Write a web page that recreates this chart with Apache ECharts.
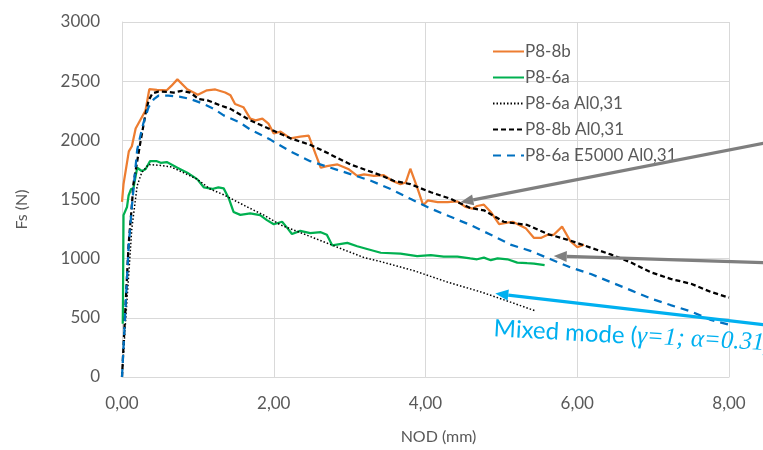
<!DOCTYPE html>
<html>
<head>
<meta charset="utf-8">
<script src="https://cdn.jsdelivr.net/npm/echarts@6/dist/echarts.min.js"></script>
<style>
    html, body {margin: 0; padding: 0; background: #fff;}
    #main {width: 763px; height: 450px;}
</style>
</head>
<body>
<div id="main"></div>
<script>
let xTicks = ['0,00', '2,00', '4,00', '6,00', '8,00'];

// P8-8b (orange)
let p88b = [[0, 1480], [0.02, 1630], [0.09, 1907], [0.13, 1950], [0.18, 2100], [0.31, 2252], [0.36, 2432], [0.46, 2427],
    [0.59, 2423], [0.65, 2460], [0.73, 2515], [0.86, 2432], [1.0, 2385], [1.12, 2423], [1.23, 2430], [1.36, 2404],
    [1.43, 2380], [1.49, 2307], [1.60, 2280], [1.69, 2183], [1.76, 2169], [1.85, 2183], [1.93, 2141], [2.0, 2058],
    [2.09, 2073], [2.22, 2017], [2.35, 2031], [2.46, 2039], [2.62, 1768], [2.70, 1782], [2.84, 1796], [2.99, 1755],
    [3.10, 1700], [3.19, 1713], [3.32, 1700], [3.45, 1705], [3.56, 1658], [3.67, 1630], [3.74, 1644], [3.80, 1760],
    [3.89, 1602], [3.97, 1451], [4.03, 1492], [4.16, 1478], [4.29, 1478], [4.42, 1484], [4.53, 1437], [4.62, 1423],
    [4.68, 1445], [4.77, 1456], [4.86, 1395], [4.97, 1291], [5.15, 1312], [5.32, 1258], [5.43, 1175], [5.52, 1175],
    [5.61, 1202], [5.69, 1202], [5.80, 1271], [5.91, 1147], [6.00, 1097], [6.09, 1119]];

// P8-6a (green)
let p86a = [[0.01, 450], [0.013, 649], [0.02, 1368], [0.066, 1437], [0.087, 1534], [0.12, 1589], [0.15, 1594],
    [0.20, 1768], [0.26, 1741], [0.31, 1755], [0.37, 1824], [0.46, 1824], [0.51, 1810], [0.59, 1816], [0.73, 1768],
    [0.86, 1727], [0.99, 1672], [1.08, 1602], [1.19, 1589], [1.27, 1602], [1.34, 1594], [1.41, 1506], [1.47, 1395],
    [1.56, 1370], [1.69, 1382], [1.82, 1368], [1.91, 1326], [2.0, 1291], [2.11, 1312], [2.18, 1258], [2.24, 1208],
    [2.35, 1235], [2.48, 1216], [2.62, 1224], [2.70, 1202], [2.77, 1113], [2.97, 1133], [3.10, 1105], [3.23, 1082],
    [3.41, 1050], [3.67, 1042], [3.89, 1022], [4.07, 1030], [4.24, 1017], [4.42, 1017], [4.59, 1002], [4.68, 995],
    [4.77, 1009], [4.86, 987], [4.95, 1003], [5.08, 995], [5.21, 967], [5.34, 962], [5.43, 959], [5.57, 946]];

// P8-6a Al0,31 (black dotted)
let p86aAl = [[0, 0], [0.05, 500], [0.13, 1258], [0.20, 1617], [0.26, 1727], [0.35, 1796], [0.51, 1788], [0.64, 1777],
    [0.81, 1727], [0.99, 1672], [1.16, 1589], [1.34, 1540], [1.43, 1510], [1.65, 1437], [1.87, 1368], [2.09, 1285],
    [2.31, 1230], [2.53, 1175], [2.75, 1119], [2.97, 1064], [3.19, 1009], [3.41, 975], [3.85, 898], [4.29, 802],
    [4.73, 719], [5.17, 622], [5.45, 558]];

// P8-8b Al0,31 (black dashed)
let p88bAl = [[0, 0], [0.044, 566], [0.087, 1119], [0.13, 1451], [0.15, 1630], [0.24, 1975], [0.31, 2224], [0.35, 2335],
    [0.40, 2396], [0.48, 2412], [0.61, 2410], [0.68, 2404], [0.79, 2418], [0.90, 2404], [1.01, 2349], [1.14, 2335],
    [1.30, 2294], [1.43, 2266], [1.69, 2169], [1.96, 2092], [2.22, 2017], [2.48, 1962], [2.62, 1921], [2.84, 1851],
    [3.01, 1796], [3.41, 1705], [3.58, 1658], [3.80, 1630], [4.07, 1561], [4.33, 1506], [4.59, 1428], [4.77, 1409],
    [5.03, 1312], [5.34, 1285], [5.61, 1208], [5.91, 1152], [6.18, 1092], [6.44, 1036], [6.71, 967], [6.97, 885],
    [7.23, 829], [7.50, 788], [7.76, 719], [8.0, 671]];

// P8-6a E5000 Al0,31 (blue dashed)
let p86aE = [[0, 0], [0.044, 560], [0.087, 1100], [0.13, 1440], [0.20, 1920], [0.28, 2141], [0.35, 2280], [0.42, 2349],
    [0.48, 2377], [0.61, 2377], [0.77, 2368], [0.90, 2349], [1.08, 2307], [1.21, 2266], [1.34, 2211], [1.54, 2155],
    [1.69, 2092], [1.96, 2004], [2.22, 1907], [2.48, 1824], [2.75, 1768], [3.01, 1715], [3.28, 1658], [3.54, 1589],
    [3.80, 1506], [4.07, 1423], [4.33, 1354], [4.59, 1285], [4.86, 1202], [5.12, 1119], [5.39, 1064], [5.65, 995],
    [5.91, 926], [6.18, 870], [6.44, 802], [6.71, 732], [6.97, 663], [7.23, 608], [7.50, 553], [7.76, 483], [8.0, 442]];

// 标注箭头 (from -> to, data coords)
let arrows = [
    {from: [8.46, 1975], to: [4.46, 1476], color: '#7f7f7f'},
    {from: [8.46, 967], to: [5.69, 1022], color: '#7f7f7f'},
    {from: [8.46, 442], to: [4.92, 705], color: '#00b0f0'}
];
let noteAt = [4.9, 410];

let font = 'Lato, "Open Sans", sans-serif';
let myChart = echarts.init(document.getElementById('main'));

function lineSeries(name, data, color, width, type) {
    return {
        name: name,
        type: 'line',
        data: data,
        symbol: 'none',
        smooth: false,
        animation: false,
        lineStyle: {color: color, width: width, type: type},
        itemStyle: {color: color}
    };
}

let option = {
    animation: false,
    grid: {left: 122, right: 34, top: 22, bottom: 65},
    legend: {
        orient: 'vertical',
        left: 487,
        top: 38,
        itemWidth: 31,
        itemHeight: 12,
        itemGap: 9,
        itemStyle: {opacity: 0},
        textStyle: {fontFamily: font, fontSize: 17, color: '#595959', padding: [0, 0, 0, -4]},
        data: ['P8-8b', 'P8-6a', 'P8-6a Al0,31', 'P8-8b Al0,31', 'P8-6a E5000 Al0,31']
    },
    xAxis: {
        type: 'value',
        min: 0,
        max: 8,
        interval: 2,
        name: 'NOD (mm)',
        nameLocation: 'middle',
        nameGap: 52,
        nameTextStyle: {fontFamily: font, fontSize: 16, color: '#595959', padding: [0, 0, 0, 26]},
        axisLine: {show: true, lineStyle: {color: '#d9d9d9'}},
        axisTick: {show: false},
        splitLine: {show: true, lineStyle: {color: '#d9d9d9'}},
        axisLabel: {
            fontFamily: font, fontSize: 17, color: '#595959', margin: 18,
            formatter: function (v) { return xTicks[Math.round(v / 2)]; }
        }
    },
    yAxis: {
        type: 'value',
        min: 0,
        max: 3000,
        interval: 500,
        name: 'Fs (N)',
        nameLocation: 'middle',
        nameGap: 92,
        nameRotate: 90,
        nameTextStyle: {fontFamily: font, fontSize: 16, color: '#595959', padding: [0, 0, 0, -20]},
        axisLine: {show: true, lineStyle: {color: '#d9d9d9'}},
        axisTick: {show: false},
        splitLine: {show: true, lineStyle: {color: '#d9d9d9'}},
        axisLabel: {
            fontFamily: font, fontSize: 17, color: '#595959', margin: 22,
            formatter: function (v) { return String(v); }
        }
    },
    series: [
        lineSeries('P8-8b', p88b, '#ed7d31', 2.25, 'solid'),
        lineSeries('P8-6a', p86a, '#00b050', 2.25, 'solid'),
        lineSeries('P8-6a Al0,31', p86aAl, '#000000', 1.5, [1.5, 2]),
        lineSeries('P8-8b Al0,31', p88bAl, '#000000', 2.25, [5, 3]),
        lineSeries('P8-6a E5000 Al0,31', p86aE, '#0070c0', 2.25, [8, 6])
    ]
};
myChart.setOption(option);

// 箭头和文字
function drawNotes() {
    let els = [];
    arrows.forEach(function (a) {
        let p0 = myChart.convertToPixel({gridIndex: 0}, a.from);
        let p1 = myChart.convertToPixel({gridIndex: 0}, a.to);
        let dx = p1[0] - p0[0], dy = p1[1] - p0[1];
        let len = Math.sqrt(dx * dx + dy * dy);
        let ux = dx / len, uy = dy / len;
        let hl = 13, hw = 5.5;
        let base = [p1[0] - ux * hl, p1[1] - uy * hl];
        els.push({
            type: 'polyline',
            shape: {points: [p0, base]},
            style: {stroke: a.color, lineWidth: 3.2, fill: null},
            z: 100
        });
        els.push({
            type: 'polygon',
            shape: {points: [p1, [base[0] - uy * hw, base[1] + ux * hw], [base[0] + uy * hw, base[1] - ux * hw]]},
            style: {fill: a.color},
            z: 100
        });
    });
    let tp = myChart.convertToPixel({gridIndex: 0}, noteAt);
    els.push({
        type: 'text',
        x: tp[0],
        y: tp[1],
        rotation: -0.055,
        z: 100,
        style: {
            text: '{a|Mixed mode (}{b|γ=1; α=0.31)}',
            verticalAlign: 'middle',
            rich: {
                a: {fontFamily: font, fontSize: 24, fill: '#00b0f0'},
                b: {fontFamily: '"Liberation Serif", "DejaVu Serif", serif', fontStyle: 'italic', fontSize: 25, fill: '#00b0f0'}
            }
        }
    });
    myChart.setOption({graphic: els});
}
drawNotes();
</script>
</body>
</html>
